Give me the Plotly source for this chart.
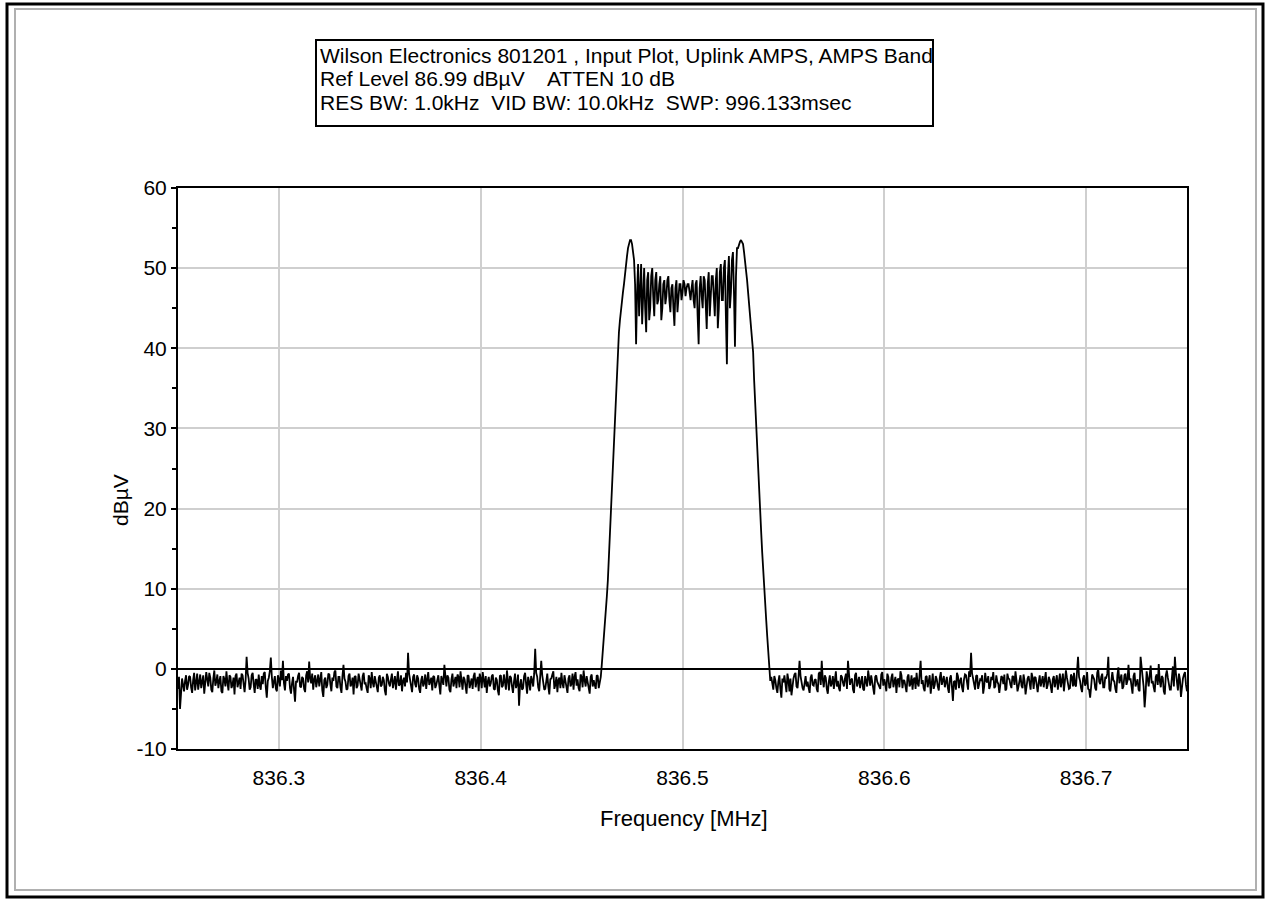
import numpy as np
import plotly.graph_objects as go

# ---------------- data ----------------
# sweep: 836.25 MHz ... 836.75 MHz, one reading every 0.5 kHz.
# "*_a" lists are readings on whole kHz, "*_b" lists readings half a kHz later.
start_mhz = 836.25
step_mhz = 0.0005

noise_low_a = [
    -2.5, -5.0, -1.2, -2.8, -0.8, -2.0, -1.0, -3.0, -0.5, -1.8,
    -2.6, -0.7, -1.5, -3.1, -0.4, -2.2, -1.1, -2.9, -0.2, -1.6,
    -2.4, -0.9, -3.0, -1.3, -0.3, -2.7, -1.0, -2.0, -3.2, -0.6,
    -1.8, -2.5, -0.8, -2.9, 1.5, -1.2, -2.3, -0.5, -3.0, -1.4,
    -0.7, -2.6, -1.9, -0.4, -3.6, -1.1, 1.4, -2.4, -0.9, -2.8,
    -1.3, -0.2, 1.0, -2.7, -1.5, -0.6, -3.1, -1.0, -4.1, -1.7,
    -0.5, -2.3, -1.2, -2.9, -0.3, 0.9, -1.8, -2.6, -0.8, -1.4,
    -2.2, -0.4, -3.5, -1.1, -2.0, -0.7, -2.8, -1.5, -0.2, -2.4,
    -1.0, -3.0, 0.5, -1.6, -2.5, -0.6, -1.9, -3.2, -0.9, -2.1,
    -1.3, -2.7, -0.5, -1.8, -3.0, -1.2, -0.4, -2.3, -1.6, -2.9,
    -0.8, -2.0, -1.4, -3.3, -1.0, -2.2, -0.6, -1.7, -2.6, -0.3,
    -1.9, -2.8, -1.1, -0.5, 2.0, -1.5, -2.9, -0.7, -2.3, -1.2,
    -3.0, -0.9, -1.8, -2.5, -0.4, -1.6, -2.7, -1.0, -2.0, -0.8,
    -3.2, -1.4, 0.5, -2.2, -1.1, -2.9, -0.6, -1.7, -2.4, -1.0,
    -0.3, -2.6, -1.3, -3.1, -0.9, -1.9, -2.5, -0.5, -1.5, -2.8,
    -1.2, -0.4, -2.3, -3.0, -1.0, -1.8, -0.7, -2.6, -1.4, -3.3,
    -0.8, -2.1, -1.5, -0.2, -2.7, -1.1, -3.0, -0.6, -1.9, -4.6,
    -1.3, -2.4, -0.5, -3.1, -1.6, -0.9, -2.2, 2.5, -1.0, -2.8,
    1.0, -1.7, -2.5, -0.6, -3.2, -1.2, -0.3, -2.0, -2.9, -1.1,
    -0.5, -2.4, -1.5, -3.0, -0.8, -1.9, -2.6, -0.4, -1.3, -2.8,
    -1.0, -0.2, -2.2, -1.6, -3.1, -0.7, -1.4, -2.5, -0.9, -1.8,
]
noise_low_b = [
    -1.0, -3.5, -2.0, -1.5, -2.6, -0.9, -2.3, -1.4, -2.7, -0.6,
    -1.9, -2.4, -0.8, -2.0, -1.3, -0.5, -2.6, -1.2, -2.1, -0.7,
    -1.5, -2.8, -0.9, -2.2, -1.7, -0.8, -2.4, -1.1, -0.9, -2.3,
    -1.1, -0.6, -2.2, -1.4, -0.5, -2.6, -0.8, -1.9, -1.3, -2.5,
    -2.1, -0.9, -0.6, -2.3, -1.5, -0.3, -1.0, -1.6, -2.5, -0.8,
    -2.2, -1.4, -1.8, -0.9, -0.7, -2.4, -1.8, -2.6, -1.5, -0.9,
    -2.2, -1.0, -2.5, -0.8, -1.7, -1.2, -0.6, -1.3, -2.3, -0.7,
    -0.9, -2.7, -1.4, -2.4, -0.6, -1.9, -1.1, -0.4, -2.2, -1.0,
    -2.3, -0.9, -1.2, -2.6, -0.9, -2.2, -1.1, -1.0, -2.4, -0.6,
    -2.5, -0.9, -1.9, -2.5, -0.8, -2.4, -1.7, -0.9, -2.6, -1.1,
    -2.2, -1.0, -2.7, -0.6, -1.8, -1.3, -2.4, -0.9, -1.0, -2.1,
    -0.8, -1.5, -2.2, -1.7, -0.6, -2.3, -1.0, -1.9, -0.8, -2.5,
    -1.4, -2.2, -0.7, -1.3, -2.0, -1.1, -0.9, -2.4, -1.2, -2.1,
    -0.9, -2.0, -1.6, -0.8, -2.6, -1.3, -2.2, -1.0, -0.7, -2.3,
    -1.7, -1.0, -2.2, -0.8, -2.4, -1.2, -0.9, -2.3, -1.0, -0.6,
    -2.4, -1.7, -0.9, -1.6, -2.2, -0.9, -2.5, -1.1, -2.7, -0.9,
    -2.3, -0.7, -2.6, -1.3, -0.9, -2.2, -1.6, -2.4, -0.7, -2.0,
    -2.6, -0.9, -1.9, -1.0, -2.7, -1.4, -0.6, -0.5, -2.3, -0.9,
    -0.8, -2.6, -1.0, -2.2, -1.3, -0.7, -2.5, -1.0, -1.4, -2.4,
    -1.8, -0.8, -2.7, -1.2, -2.2, -0.6, -1.0, -2.1, -2.4, -0.7,
    -2.3, -1.4, -0.9, -2.6, -1.0, -2.2, -2.0, -0.8, -2.4, -1.0,
]

carrier_a = [
    0.5, 4.0, 7.5, 11.0, 17.0, 23.0, 28.5, 34.0, 39.5, 43.5,
    46.0, 48.0, 50.5, 52.5, 53.5, 53.0, 51.0, 40.5, 50.5, 49.0,
    43.0, 50.0, 42.0, 49.5, 45.0, 50.0, 44.0, 49.5, 46.0, 49.0,
    45.0, 48.5, 46.5, 49.0, 44.5, 48.0, 42.8, 48.5, 46.5, 48.0,
    47.0, 48.0, 47.5, 48.0, 46.0, 48.5, 45.0, 48.5, 40.5, 49.0,
    45.0, 48.5, 42.4, 49.5, 46.0, 49.0, 44.0, 50.0, 45.0, 50.5,
    46.0, 51.0, 38.0, 51.5, 47.0, 52.0, 40.2, 52.5, 53.0, 53.5,
    53.0, 51.0, 48.5, 45.5, 42.5, 39.5, 33.0, 27.0, 22.0, 17.0,
    12.0, 8.0, 4.0, 0.5,
]
carrier_b = [
    2.0, 6.0, 9.0, 14.0, 20.0, 26.0, 31.0, 37.0, 42.0, 45.0,
    47.0, 49.5, 51.5, 53.2, 53.5, 52.0, 48.0, 47.0, 44.0, 50.5,
    47.5, 45.0, 48.5, 43.5, 49.0, 46.5, 48.5, 45.5, 48.0, 43.5,
    48.0, 45.5, 48.5, 46.0, 47.5, 45.0, 47.5, 44.5, 48.0, 46.0,
    48.5, 46.5, 48.0, 46.5, 47.5, 46.0, 48.0, 44.0, 47.5, 46.5,
    49.0, 45.5, 48.0, 44.0, 49.0, 45.5, 48.5, 42.5, 49.5, 46.0,
    50.0, 44.0, 49.0, 45.0, 51.0, 47.0, 49.0, 52.5, 53.3, 53.3,
    52.0, 50.0, 47.0, 44.0, 41.0, 36.0, 30.0, 24.5, 19.5, 14.5,
    10.0, 6.0, 2.0, -1.5,
]

noise_high_a = [
    -1.0, -2.6, -1.4, -3.0, -0.8, -3.6, -1.7, -2.2, -0.6, -2.8,
    -3.3, -1.2, -0.5, -2.4, 1.0, -1.9, -2.7, -0.9, -1.6, -3.0,
    -0.7, -2.1, -1.3, -2.9, -0.4, 1.0, -2.3, -1.1, -3.1, -0.8,
    -1.8, -2.5, -0.3, -1.5, -2.8, -1.0, -2.2, -0.6, 1.0, -2.0,
    -1.2, -3.0, -0.5, -1.7, -2.4, -0.9, -2.7, -1.4, -0.2, -2.1,
    -1.6, -3.2, -0.8, -1.9, -2.5, -0.4, -1.3, -2.8, -1.0, -2.3,
    -0.6, -1.8, -3.0, -1.2, -0.3, -2.4, -1.5, -2.9, -0.7, -1.9,
    -2.6, -1.1, -0.5, -2.2, 1.0, -1.4, -2.8, -0.9, -1.7, -3.1,
    -0.6, -2.0, -1.3, -2.7, -0.4, -1.6, -2.3, -1.0, -3.0, -0.8,
    -4.0, -1.5, -0.5, -2.4, -1.1, -2.9, -0.7, -1.8, -0.3, 2.0,
    -1.2, -2.6, -0.8, -2.0, -1.4, -3.1, -0.5, -1.7, -2.5, -1.0,
    -0.4, -2.2, -1.6, -3.0, -0.9, -1.9, -2.7, -0.6, -1.3, -2.4,
    -1.0, -0.3, -2.8, -1.5, -2.1, -0.7, -3.2, -1.2, -1.8, -0.5,
    -2.5, -1.1, -2.9, -0.8, -1.6, -2.3, -0.4, -2.0, -1.4, -3.0,
    -0.9, -1.7, -2.6, -0.6, -1.2, -2.8, -0.2, -1.9, -2.4, -1.0,
    -0.5, -2.2, 1.5, -1.5, -2.9, -0.8, -1.8, -2.5, -3.6, -0.7,
    -1.3, -2.7, 0.0, -1.9, -0.6, -2.3, -1.1, 1.5, -2.8, -0.4,
    -1.6, -3.0, 0.2, -1.4, -2.5, -0.8, -2.0, 0.5, -1.2, -3.1,
    -0.5, -1.8, -2.6, 1.5, -1.0, -4.8, -0.3, -2.2, 0.4, -1.5,
    -2.9, -0.7, 0.6, -2.3, -1.1, -3.2, -0.2, -1.7, -2.6, 0.3,
    1.5, -1.9, -0.6, -3.5, -1.2, -0.4, -2.8,
]
noise_high_b = [
    -2.2, -0.9, -2.4, -1.6, -2.5, -1.2, -0.8, -2.9, -1.4, -1.2,
    -1.8, -0.7, -2.2, -1.0, -0.9, -2.4, -1.3, -2.2, -2.4, -1.1,
    -2.0, -1.4, -2.5, -0.6, -2.0, -1.3, -0.8, -2.5, -1.6, -2.2,
    -0.9, -1.4, -2.2, -2.4, -0.8, -1.7, -1.2, -2.5, -0.6, -1.4,
    -2.6, -0.8, -2.2, -1.0, -1.3, -2.5, -0.9, -2.2, -1.4, -0.8,
    -2.5, -1.0, -1.6, -2.4, -0.7, -2.1, -1.9, -0.6, -2.4, -1.1,
    -2.3, -1.0, -1.4, -2.3, -0.8, -1.4, -2.6, -1.0, -2.2, -0.8,
    -1.3, -2.5, -1.8, -0.7, -1.9, -2.4, -1.0, -2.3, -0.8, -1.4,
    -2.5, -0.9, -2.2, -1.1, -2.0, -0.9, -1.6, -2.4, -1.2, -2.2,
    -1.6, -2.6, -0.9, -1.5, -2.3, -1.3, -0.8, -2.6, -1.0, -0.6,
    -2.2, -0.9, -2.5, -1.3, -0.8, -2.2, -1.5, -0.9, -2.1, -1.4,
    -2.4, -0.8, -1.9, -2.2, -1.1, -0.7, -2.5, -1.2, -2.0, -0.9,
    -2.0, -1.4, -2.2, -0.8, -2.4, -1.5, -2.0, -0.9, -2.6, -1.1,
    -1.0, -2.3, -1.7, -2.2, -0.9, -1.4, -2.5, -1.0, -2.2, -1.3,
    -2.3, -0.8, -1.4, -2.3, -0.6, -1.8, -1.1, -2.5, -0.7, -2.2,
    -2.0, -0.8, -1.0, -2.4, -1.2, -2.1, -0.4, -2.6, -2.2, -1.0,
    -2.4, -0.5, -1.6, -1.0, -2.3, -1.0, -0.6, -2.5, -1.5, -1.4,
    -2.5, -0.8, -1.8, -0.7, -2.2, -0.6, -1.5, -1.4, -2.6, -0.9,
    -2.2, -1.3, -2.8, -0.4, -2.2, -3.0, -1.2, -0.8, -1.8, -2.3,
    -1.0, -2.0, -1.5, -0.9, -2.8, -0.8, -1.1, -2.6, -0.6, -2.2,
    -0.5, -2.7, -1.3, -2.2, -0.7, -2.0,
]

title_lines = [
    "Wilson Electronics 801201 , Input Plot, Uplink AMPS, AMPS Band",
    "Ref Level 86.99 dBµV    ATTEN 10 dB",
    "RES BW: 1.0kHz  VID BW: 10.0kHz  SWP: 996.133msec",
]
x_ticks = [836.3, 836.4, 836.5, 836.6, 836.7]
y_ticks = [-10, 0, 10, 20, 30, 40, 50, 60]

readings_a = noise_low_a + carrier_a + noise_high_a
readings_b = noise_low_b + carrier_b + noise_high_b
levels = [v for pair in zip(readings_a, readings_b) for v in pair] + readings_a[len(readings_b):]
freq = np.round(start_mhz + step_mhz * np.arange(len(levels)), 5)

# ---------------- layout geometry ----------------
W, H = 1267, 899
PX0, PX1, PY0, PY1 = 178, 1187, 188, 749


def xp(px):
    return (px - PX0) / (PX1 - PX0)


def yp(py):
    return (PY1 - py) / (PY1 - PY0)


FONT = "Liberation Sans, Arial, sans-serif"

fig = go.Figure()
fig.add_trace(go.Scatter(x=freq, y=levels, mode="lines",
                         line=dict(color="black", width=1.8),
                         hoverinfo="x+y", showlegend=False))

fig.update_layout(
    width=W, height=H,
    margin=dict(l=PX0, r=W - PX1, t=PY0, b=H - PY1, pad=0),
    paper_bgcolor="white", plot_bgcolor="white",
    font=dict(family=FONT, size=21, color="black"),
    showlegend=False,
)
fig.update_xaxes(
    range=[836.25, 836.75], tickvals=x_ticks,
    ticktext=[f"{v:.1f}" for v in x_ticks],
    showgrid=True, gridcolor="#cfcfcf", gridwidth=2,
    showline=True, linecolor="black", linewidth=2, mirror=True,
    ticks="", tickfont=dict(size=21), zeroline=False,
    ticklabelstandoff=9,
)
fig.update_yaxes(
    range=[-10, 60], tickvals=y_ticks,
    ticktext=[str(v) for v in y_ticks],
    showgrid=True, gridcolor="#cfcfcf", gridwidth=2,
    showline=True, linecolor="black", linewidth=2, mirror=True,
    ticks="outside", ticklen=5, tickwidth=2, tickcolor="black",
    minor=dict(dtick=5, tick0=0, ticks="outside", ticklen=4,
               tickwidth=2, tickcolor="black", showgrid=False),
    tickfont=dict(size=21),
    zeroline=True, zerolinecolor="black", zerolinewidth=2,
)

shapes = []
# outer window frame
shapes.append(dict(type="rect", xref="paper", yref="paper",
                   x0=xp(7), x1=xp(1263), y0=yp(897), y1=yp(4),
                   line=dict(color="black", width=3), layer="above"))
shapes.append(dict(type="rect", xref="paper", yref="paper",
                   x0=xp(15), x1=xp(1256), y0=yp(890), y1=yp(9),
                   line=dict(color="#b0b0b0", width=2), layer="above"))
# title box
shapes.append(dict(type="rect", xref="paper", yref="paper",
                   x0=xp(316), x1=xp(933), y0=yp(126), y1=yp(40),
                   line=dict(color="black", width=2), layer="above"))
fig.update_layout(shapes=shapes)

annotations = []
for line_text, cy in zip(title_lines, [55, 79, 103]):
    annotations.append(dict(text=line_text, xref="paper", yref="paper",
                            x=xp(318), y=yp(cy), xanchor="left", yanchor="middle",
                            showarrow=False, font=dict(size=21, family=FONT)))
annotations.append(dict(text="dBµV", xref="paper", yref="paper",
                        x=xp(120), y=yp(500), xanchor="center", yanchor="middle",
                        textangle=-90, showarrow=False, font=dict(size=21, family=FONT)))
annotations.append(dict(text="Frequency [MHz]", xref="paper", yref="paper",
                        x=xp(684), y=yp(818), xanchor="center", yanchor="middle",
                        showarrow=False, font=dict(size=22, family=FONT)))
fig.update_layout(annotations=annotations)

fig.write_html("out.html", config={"displayModeBar": False},
               post_script="document.body.style.margin='0';document.body.style.overflow='hidden';")
